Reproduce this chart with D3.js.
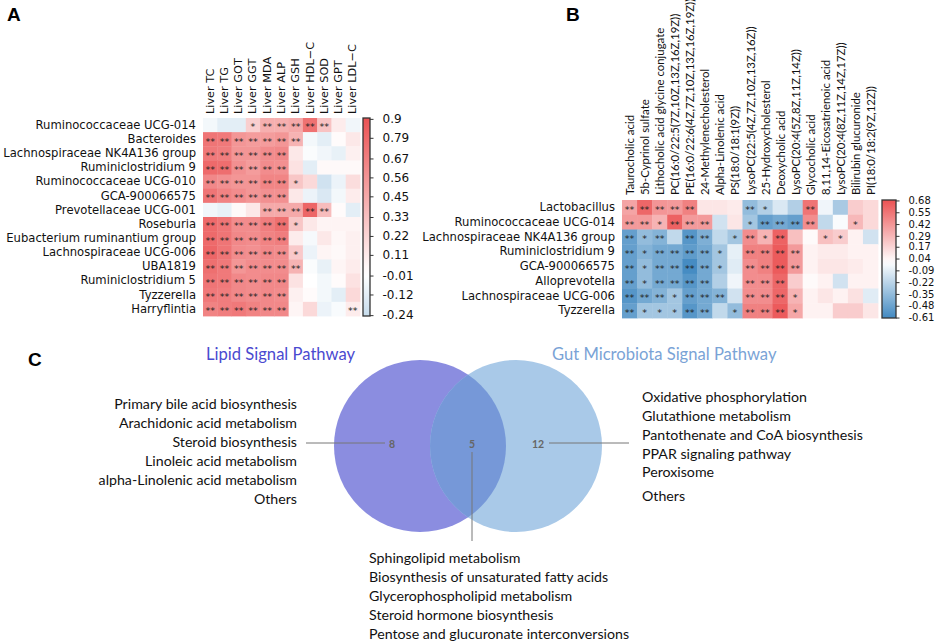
<!DOCTYPE html>
<html><head><meta charset="utf-8">
<script src="https://cdn.jsdelivr.net/npm/d3@7/dist/d3.min.js"></script>
<style>body{margin:0;background:#fff} svg{display:block}</style>
</head><body>
<svg id="c" width="941" height="643"></svg>
<script>
// ---------- Panel A data ----------
const rowsA = ["Ruminococcaceae UCG-014","Bacteroides","Lachnospiraceae NK4A136 group","Ruminiclostridium 9",
  "Ruminococcaceae UCG-010","GCA-900066575","Prevotellaceae UCG-001","Roseburia","Eubacterium ruminantium group",
  "Lachnospiraceae UCG-006","UBA1819","Ruminiclostridium 5","Tyzzerella","Harryflintia"];
const colsA = ["Liver TC","Liver TG","Liver GOT","Liver GGT","Liver MDA","Liver ALP","Liver GSH","Liver HDL\u2212C","Liver SOD","Liver GPT","Liver LDL\u2212C"];
const valuesA = [
  [-0.05,-0.12,-0.12,0.25,0.42,0.42,0.45,0.74,0.32,0.10,-0.06],
  [0.72,0.70,0.55,0.52,0.52,0.55,0.40,-0.05,-0.12,0.02,0.12],
  [0.70,0.68,0.55,0.55,0.60,0.62,0.12,-0.02,-0.06,-0.10,0.08],
  [0.78,0.76,0.58,0.52,0.60,0.58,0.15,-0.12,0.03,0.03,0.03],
  [0.62,0.58,0.55,0.55,0.64,0.64,0.30,0.20,-0.20,-0.08,0.18],
  [0.72,0.65,0.60,0.55,0.58,0.58,0.12,-0.08,-0.16,-0.05,0.10],
  [-0.06,-0.10,0.03,0.12,0.45,0.45,0.45,0.80,0.35,0.02,-0.12],
  [0.78,0.72,0.60,0.60,0.68,0.75,0.30,0.12,0.06,0.06,0.06],
  [0.78,0.72,0.62,0.60,0.65,0.68,0.10,-0.04,0.12,0.04,0.08],
  [0.80,0.72,0.60,0.58,0.62,0.60,0.28,-0.08,0.05,0.03,0.08],
  [0.75,0.70,0.55,0.60,0.60,0.60,0.40,-0.02,-0.10,0.05,0.10],
  [0.72,0.70,0.62,0.60,0.62,0.62,0.15,0.00,-0.05,0.02,0.15],
  [0.70,0.68,0.62,0.60,0.62,0.60,0.08,0.02,-0.05,-0.12,0.20],
  [0.65,0.68,0.70,0.65,0.62,0.62,0.05,0.20,-0.08,-0.03,0.10]
];
const sigA = [
  ["","","","*","**","**","**","**","**","",""],
  ["**","**","**","**","**","**","**","","","",""],
  ["**","**","**","**","**","**","","","","",""],
  ["**","**","**","**","**","**","","","","",""],
  ["**","**","**","**","**","**","*","","","",""],
  ["**","**","**","**","**","**","","","","",""],
  ["","","","","**","**","**","**","**","",""],
  ["**","**","**","**","**","**","*","","","",""],
  ["**","**","**","**","**","**","","","","",""],
  ["**","**","**","**","**","**","*","","","",""],
  ["**","**","**","**","**","**","**","","","",""],
  ["**","**","**","**","**","**","","","","",""],
  ["**","**","**","**","**","**","","","","",""],
  ["**","**","**","**","**","**","","","","","**"]
];
const ticksA = ["0.9","0.79","0.67","0.56","0.45","0.33","0.22","0.11","-0.01","-0.12","-0.24"];
const rangeA = [-0.245, 0.905];

// ---------- Panel B data ----------
const rowsB = ["Lactobacillus","Ruminococcaceae UCG-014","Lachnospiraceae NK4A136 group","Ruminiclostridium 9",
  "GCA-900066575","Alloprevotella","Lachnospiraceae UCG-006","Tyzzerella"];
const colsB = ["Taurocholic acid","5b-Cyprinol sulfate","Lithocholic acid glycine conjugate",
  "PC(16:0/22:5(7Z,10Z,13Z,16Z,19Z))","PE(16:0/22:6(4Z,7Z,10Z,13Z,16Z,19Z))","24-Methylenecholesterol",
  "Alpha-Linolenic acid","PS(18:0/18:1(9Z))","LysoPC(22:5(4Z,7Z,10Z,13Z,16Z))","25-Hydroxycholesterol",
  "Deoxycholic acid","LysoPC(20:4(5Z,8Z,11Z,14Z))","Glycocholic acid","8,11,14-Eicosatrienoic acid",
  "LysoPC(20:4(8Z,11Z,14Z,17Z))","Bilirubin glucuronide","PI(18:0/18:2(9Z,12Z))"];
const valuesB = [
  [0.36,0.60,0.42,0.40,0.50,0.10,0.10,0.08,-0.35,-0.25,-0.12,-0.25,0.55,-0.05,-0.28,0.20,0.15],
  [0.40,0.40,0.30,0.62,0.40,0.40,-0.15,0.10,-0.30,-0.50,-0.45,-0.50,0.45,-0.20,-0.02,0.28,0.15],
  [-0.50,-0.35,-0.40,-0.20,-0.55,-0.42,-0.20,-0.30,0.45,0.30,0.62,0.25,0.02,0.25,0.20,0.05,-0.15],
  [-0.50,-0.40,-0.45,-0.45,-0.52,-0.45,-0.30,-0.08,0.50,0.50,0.65,0.40,0.05,0.08,0.08,0.05,0.05],
  [-0.50,-0.35,-0.45,-0.45,-0.60,-0.45,-0.30,-0.10,0.45,0.50,0.65,0.40,0.05,0.10,0.10,0.08,0.05],
  [-0.50,-0.35,-0.45,-0.45,-0.55,-0.45,-0.25,-0.05,0.45,0.45,0.60,0.20,0.02,0.05,-0.15,0.05,0.05],
  [-0.55,-0.45,-0.40,-0.30,-0.50,-0.45,-0.40,-0.15,0.45,0.45,0.60,0.30,0.05,0.10,0.05,0.12,-0.10],
  [-0.50,-0.30,-0.30,-0.30,-0.55,-0.45,-0.20,-0.35,0.50,0.50,0.65,0.35,0.05,0.05,0.20,0.20,0.10]
];
const sigB = [
  ["**","**","**","**","**","","","","**","*","","","**","","","",""],
  ["**","**","*","**","**","**","","","*","**","**","**","**","","","*",""],
  ["**","*","**","","**","**","","*","**","*","**","","","*","*","",""],
  ["**","*","**","**","**","**","*","","**","**","**","**","","","","",""],
  ["**","*","**","**","**","**","*","","**","**","**","**","","","","",""],
  ["**","*","**","**","**","**","","","**","**","**","","","","","",""],
  ["**","**","**","*","**","**","**","","**","**","**","*","","","","",""],
  ["**","*","*","*","**","**","","*","**","**","**","*","","","","",""]
];
const ticksB = ["0.68","0.55","0.42","0.29","0.17","0.04","-0.09","-0.22","-0.35","-0.48","-0.61"];
const rangeB = [-0.615, 0.685];

// ---------- Panel C data ----------
const vennTitles = ["Lipid Signal Pathway","Gut Microbiota Signal Pathway"];
const vennCounts = ["8","5","12"];
const lipidOnly = ["Primary bile acid biosynthesis","Arachidonic acid metabolism","Steroid biosynthesis",
  "Linoleic acid metabolism","alpha-Linolenic acid metabolism","Others"];
const gutOnly = ["Oxidative phosphorylation","Glutathione metabolism","Pantothenate and CoA biosynthesis",
  "PPAR signaling pathway","Peroxisome","Others"];
const shared = ["Sphingolipid metabolism","Biosynthesis of unsaturated fatty acids","Glycerophospholipid metabolism",
  "Steroid hormone biosynthesis","Pentose and glucuronate interconversions"];

// ---------- drawing ----------
const svg = d3.select("#c");
const FONT = "'DejaVu Sans', sans-serif";
const FONT2 = "Lato, 'Open Sans', sans-serif";
const RED = "#eb5253", BLUE = "#2c7cba";
function divColor(v, vr){
  const t = Math.max(-1, Math.min(1, v / vr));
  return t >= 0 ? d3.interpolateRgb("#ffffff", RED)(t) : d3.interpolateRgb("#ffffff", BLUE)(-t);
}
const defs = svg.append("defs");

function heatmap(opt){
  const {rows, cols, values, sig, ticks, range, x0, x1, y0, y1, cbX, cbW, labFont, colFont, colFam, id} = opt;
  const vr = Math.max(Math.abs(range[0]), Math.abs(range[1]));
  const x = d3.scaleBand().domain(cols).range([x0, x1]);
  const y = d3.scaleBand().domain(rows).range([y0, y1]);
  const g = svg.append("g");
  rows.forEach((r, i) => {
    cols.forEach((c, j) => {
      g.append("rect").attr("x", x(c)).attr("y", y(r)).attr("width", x.bandwidth()+0.4).attr("height", y.bandwidth()+0.4)
        .attr("fill", divColor(values[i][j], vr));
      if (sig[i][j]) g.append("text").attr("x", x(c) + x.bandwidth()/2).attr("y", y(r) + y.bandwidth()/2 + 5.4)
        .attr("text-anchor","middle").attr("font-family", FONT).attr("font-size", 9.5).attr("fill","#222").text(sig[i][j]);
    });
  });
  // row labels
  const ya = g.append("g").attr("transform", `translate(${x0},0)`).call(d3.axisLeft(y).tickSize(0).tickPadding(7));
  ya.select(".domain").remove();
  ya.selectAll("text").attr("font-family", FONT).attr("font-size", labFont).attr("fill","#111");
  // column labels
  const xa = g.append("g").attr("transform", `translate(0,${y0})`).call(d3.axisTop(x).tickSize(0).tickPadding(0));
  xa.select(".domain").remove();
  xa.selectAll("text").attr("font-family", colFam).attr("font-size", colFont).attr("fill","#111")
    .attr("text-anchor","start").attr("dy", null)
    .attr("transform", `translate(0,${-opt.colGap}) rotate(-90)`).attr("x",0).attr("y",0)
    .attr("dominant-baseline","central");
  // colorbar
  const cy = d3.scaleLinear().domain(range).range([y1, y0]);
  const grad = defs.append("linearGradient").attr("id", id).attr("x1",0).attr("x2",0).attr("y1",1).attr("y2",0);
  d3.range(0, 1.0001, 0.05).forEach(o => {
    const v = range[0] + o*(range[1]-range[0]);
    grad.append("stop").attr("offset", o).attr("stop-color", divColor(v, vr));
  });
  g.append("rect").attr("x", cbX).attr("y", y0).attr("width", cbW).attr("height", y1-y0)
    .attr("fill", `url(#${id})`).attr("stroke","#333").attr("stroke-width",1.3);
  const ca = g.append("g").attr("transform", `translate(${cbX+cbW},0)`)
    .call(d3.axisRight(cy).tickValues(ticks.map(Number)).tickFormat((d,i)=>ticks[i]).tickSize(3.5).tickPadding(opt.tickPad));
  ca.select(".domain").remove();
  ca.selectAll("line").attr("stroke","#333");
  ca.selectAll("text").attr("font-family", FONT).attr("font-size", opt.tickFont).attr("fill","#111");
}

heatmap({rows: rowsA, cols: colsA, values: valuesA, sig: sigA, ticks: ticksA, range: rangeA,
  x0: 203, x1: 360, y0: 118, y1: 316, cbX: 363, cbW: 7, labFont: 11.6, colFont: 11.3, colFam: FONT, colGap: 4,
  tickPad: 9, tickFont: 12, id: "gA"});
heatmap({rows: rowsB, cols: colsB, values: valuesB, sig: sigB, ticks: ticksB, range: rangeB,
  x0: 622, x1: 878, y0: 200, y1: 318, cbX: 882, cbW: 14, labFont: 11.6, colFont: 11.4, colFam: FONT2, colGap: 5,
  tickPad: 9, tickFont: 10, id: "gB"});

// panel letters
const LET = "'Liberation Sans', Arial, sans-serif";
svg.append("text").attr("x",7).attr("y",21).attr("font-family",LET).attr("font-weight","bold").attr("font-size",19).text("A");
svg.append("text").attr("x",566).attr("y",21).attr("font-family",LET).attr("font-weight","bold").attr("font-size",19).text("B");
svg.append("text").attr("x",28).attr("y",366).attr("font-family",LET).attr("font-weight","bold").attr("font-size",19).text("C");

// ---------- Venn ----------
const venn = svg.append("g");
const L = {cx: 420, cy: 446, r: 86}, R = {cx: 516, cy: 446, r: 86};
defs.append("clipPath").attr("id","clipL").append("circle").attr("cx",L.cx).attr("cy",L.cy).attr("r",L.r);
venn.append("circle").attr("cx",L.cx).attr("cy",L.cy).attr("r",L.r).attr("fill","#8b8de0");
venn.append("circle").attr("cx",R.cx).attr("cy",R.cy).attr("r",R.r).attr("fill","#a9c9e8");
venn.append("circle").attr("cx",R.cx).attr("cy",R.cy).attr("r",R.r).attr("fill","#7698d8").attr("clip-path","url(#clipL)");

venn.append("text").attr("x",206).attr("y",360).attr("font-family",FONT2).attr("font-size",16.6).attr("fill","#4a4ad0").text(vennTitles[0]);
venn.append("text").attr("x",552).attr("y",360).attr("font-family",FONT2).attr("font-size",16.6).attr("fill","#7aa3d6").text(vennTitles[1]);

const numPos = [[392,448],[472,448],[538,448]];
vennCounts.forEach((n,i)=> venn.append("text").attr("x",numPos[i][0]).attr("y",numPos[i][1])
  .attr("text-anchor","middle").attr("font-family",FONT2).attr("font-size",10.5).attr("font-weight","bold").attr("fill","#666").text(n));
const lineC = "#777";
venn.append("line").attr("x1",306).attr("x2",385).attr("y1",443).attr("y2",443).attr("stroke",lineC).attr("stroke-width",1);
venn.append("line").attr("x1",549).attr("x2",629).attr("y1",443).attr("y2",443).attr("stroke",lineC).attr("stroke-width",1);
venn.append("line").attr("x1",472).attr("x2",472).attr("y1",452).attr("y2",541).attr("stroke",lineC).attr("stroke-width",1);

const LF = 14.2;
const ly = d3.scalePoint().domain(d3.range(lipidOnly.length)).range([404, 499]);
lipidOnly.forEach((t,i)=> venn.append("text").attr("x",297).attr("y",ly(i)+5).attr("text-anchor","end")
  .attr("font-family",FONT2).attr("font-size",LF).attr("fill","#111").text(t));
const gyPos = [397,416,435,454,472,496];
gutOnly.forEach((t,i)=> venn.append("text").attr("x",642).attr("y",gyPos[i]+5)
  .attr("font-family",FONT2).attr("font-size",LF).attr("fill","#111").text(t));
const sy = d3.scalePoint().domain(d3.range(shared.length)).range([558, 634]);
shared.forEach((t,i)=> venn.append("text").attr("x",369).attr("y",sy(i)+5)
  .attr("font-family",FONT2).attr("font-size",LF).attr("fill","#111").text(t));
</script>
</body></html>
